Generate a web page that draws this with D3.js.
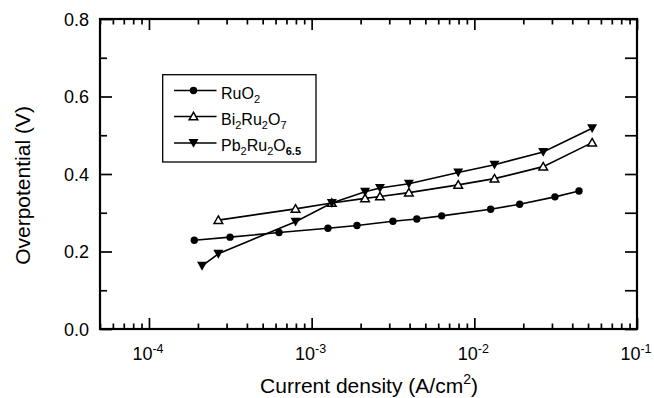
<!DOCTYPE html>
<html>
<head>
<meta charset="utf-8">
<script src="https://cdn.jsdelivr.net/npm/d3@7"></script>
<style>
html,body{margin:0;padding:0;background:#fff;}
svg{display:block;font-family:"Liberation Sans",Arial,sans-serif;}
</style>
</head>
<body>
<svg id="chart" width="654" height="398"></svg>
<script>
// ---- data ----
const ruo2X = [1.9e-4, 3.15e-4, 6.3e-4, 1.26e-3, 1.9e-3, 3.16e-3, 4.43e-3, 6.3e-3, 1.26e-2, 1.9e-2, 3.13e-2, 4.4e-2];
const ruo2Y = [0.229, 0.237, 0.249, 0.260, 0.267, 0.278, 0.284, 0.292, 0.309, 0.322, 0.341, 0.356];
const biX = [2.67e-4, 7.96e-4, 1.33e-3, 2.13e-3, 2.63e-3, 3.96e-3, 7.96e-3, 1.33e-2, 2.65e-2, 5.3e-2];
const biY = [0.281, 0.310, 0.325, 0.337, 0.342, 0.352, 0.372, 0.388, 0.419, 0.481];
const pbX = [2.12e-4, 2.67e-4, 7.96e-4, 1.33e-3, 2.13e-3, 2.63e-3, 3.96e-3, 7.96e-3, 1.33e-2, 2.65e-2, 5.3e-2];
const pbY = [0.163, 0.194, 0.277, 0.325, 0.354, 0.364, 0.375, 0.404, 0.424, 0.457, 0.518];
const xMajor = [1e-4, 1e-3, 1e-2, 1e-1];
const xMajorExp = ["-4", "-3", "-2", "-1"];
const yMajor = [0, 0.2, 0.4, 0.6, 0.8];
const yMinor = [0.1, 0.3, 0.5, 0.7];
const seriesNames = [["RuO", "2", ""], ["Bi", "2", "Ru", "2", "O", "7"], ["Pb", "2", "Ru", "2", "O", "6.5"]];

// ---- layout ----
const L = 100, R = 637, T = 19, B = 329;
const svg = d3.select("#chart");
const x = d3.scaleLog().domain([5e-5, 0.1]).range([L, R]);
const y = d3.scaleLinear().domain([0, 0.8]).range([B, T]);

const xMinor = [];
for (let e = -5; e <= -2; e++) for (let m = 2; m <= 9; m++) {
  const v = m * Math.pow(10, e);
  if (v >= 5e-5 && v <= 0.1) xMinor.push(v);
}

function styleAxis(g) {
  g.select(".domain").remove();
  g.selectAll(".tick line").attr("stroke", "#000").attr("stroke-width", 1.7);
  g.selectAll(".tick text").remove();
}
// bottom
svg.append("g").attr("transform", `translate(0,${B})`)
  .call(d3.axisBottom(x).tickValues(xMajor).tickSize(-11).tickFormat("")).call(styleAxis);
svg.append("g").attr("transform", `translate(0,${B})`)
  .call(d3.axisBottom(x).tickValues(xMinor).tickSize(-5.5).tickFormat("")).call(styleAxis);
// top
svg.append("g").attr("transform", `translate(0,${T})`)
  .call(d3.axisTop(x).tickValues(xMajor).tickSize(-11).tickFormat("")).call(styleAxis);
svg.append("g").attr("transform", `translate(0,${T})`)
  .call(d3.axisTop(x).tickValues(xMinor).tickSize(-5.5).tickFormat("")).call(styleAxis);
// left
svg.append("g").attr("transform", `translate(${L},0)`)
  .call(d3.axisLeft(y).tickValues(yMajor).tickSize(-12).tickFormat("")).call(styleAxis);
svg.append("g").attr("transform", `translate(${L},0)`)
  .call(d3.axisLeft(y).tickValues(yMinor).tickSize(-7).tickFormat("")).call(styleAxis);
// right
svg.append("g").attr("transform", `translate(${R},0)`)
  .call(d3.axisRight(y).tickValues(yMajor).tickSize(-12).tickFormat("")).call(styleAxis);
svg.append("g").attr("transform", `translate(${R},0)`)
  .call(d3.axisRight(y).tickValues(yMinor).tickSize(-12).tickFormat("")).call(styleAxis);

// frame
svg.append("rect").attr("x", L).attr("y", T).attr("width", R - L).attr("height", B - T)
  .attr("fill", "none").attr("stroke", "#000").attr("stroke-width", 2.2);

// y tick labels
svg.selectAll(".ylab").data(yMajor).join("text")
  .attr("x", 89).attr("y", d => y(d) + 6.5)
  .attr("text-anchor", "end").attr("font-size", 18).attr("fill", "#000")
  .text(d => d.toFixed(1));

// x tick labels
xMajor.forEach((v, i) => {
  const t = svg.append("text").attr("x", x(v) - 1).attr("y", 359.5)
    .attr("text-anchor", "middle").attr("font-size", 18).attr("fill", "#000");
  t.append("tspan").text("10");
  t.append("tspan").attr("dy", -7).attr("font-size", 12.5).text(xMajorExp[i]);
});

// axis titles
const xt = svg.append("text").attr("x", 369).attr("y", 393)
  .attr("text-anchor", "middle").attr("font-size", 21).attr("fill", "#000");
xt.append("tspan").text("Current density (A/cm");
xt.append("tspan").attr("dy", -9).attr("font-size", 14).text("2");
xt.append("tspan").attr("dy", 9).text(")");

svg.append("text").attr("transform", "translate(30,185.5) rotate(-90)")
  .attr("text-anchor", "middle").attr("font-size", 21).attr("fill", "#000")
  .text("Overpotential (V)");

// series
const series = [
  {xs: ruo2X, ys: ruo2Y, sym: "circle"},
  {xs: biX, ys: biY, sym: "up"},
  {xs: pbX, ys: pbY, sym: "down"}
];
const line = d3.line().x(d => x(d[0])).y(d => y(d[1]));

function drawMarker(g, sym, cx, cy) {
  if (sym === "circle") {
    g.append("circle").attr("cx", cx).attr("cy", cy).attr("r", 3.7).attr("fill", "#000");
  } else if (sym === "up") {
    g.append("path").attr("d", `M${cx},${cy - 4.2}L${cx + 4.3},${cy + 3.3}L${cx - 4.3},${cy + 3.3}Z`)
      .attr("fill", "#fff").attr("stroke", "#000").attr("stroke-width", 1.5);
  } else {
    g.append("path").attr("d", `M${cx - 5},${cy - 4}L${cx + 5},${cy - 4}L${cx},${cy + 4.8}Z`)
      .attr("fill", "#000");
  }
}

series.forEach(s => {
  const pts = s.xs.map((v, i) => [v, s.ys[i]]);
  svg.append("path").datum(pts).attr("d", line)
    .attr("fill", "none").attr("stroke", "#000").attr("stroke-width", 1.6);
});
series.forEach(s => {
  const g = svg.append("g");
  s.xs.forEach((v, i) => drawMarker(g, s.sym, x(v), y(s.ys[i])));
});

// legend
svg.append("rect").attr("x", 162.7).attr("y", 74.7).attr("width", 153.3).attr("height", 87.3)
  .attr("fill", "#fff").attr("stroke", "#000").attr("stroke-width", 1.3);
const rowY = [90.5, 116.5, 143];
series.forEach((s, i) => {
  const g = svg.append("g");
  g.append("line").attr("x1", 174).attr("x2", 216.5).attr("y1", rowY[i]).attr("y2", rowY[i])
    .attr("stroke", "#000").attr("stroke-width", 1.5);
  drawMarker(g, s.sym, 193.5, rowY[i]);
  const t = g.append("text").attr("x", 221).attr("y", rowY[i] + 8)
    .attr("font-size", 16).attr("fill", "#000");
  const parts = seriesNames[i];
  for (let k = 0; k < parts.length; k += 2) {
    t.append("tspan").attr("dy", k === 0 ? 0 : -4).attr("font-size", 16).text(parts[k]);
    if (parts[k + 1]) {
      t.append("tspan").attr("dy", 4).attr("font-size", 11)
        .attr("font-weight", parts[k + 1] === "6.5" ? "bold" : "normal").text(parts[k + 1]);
    }
  }
});
</script>
</body>
</html>
